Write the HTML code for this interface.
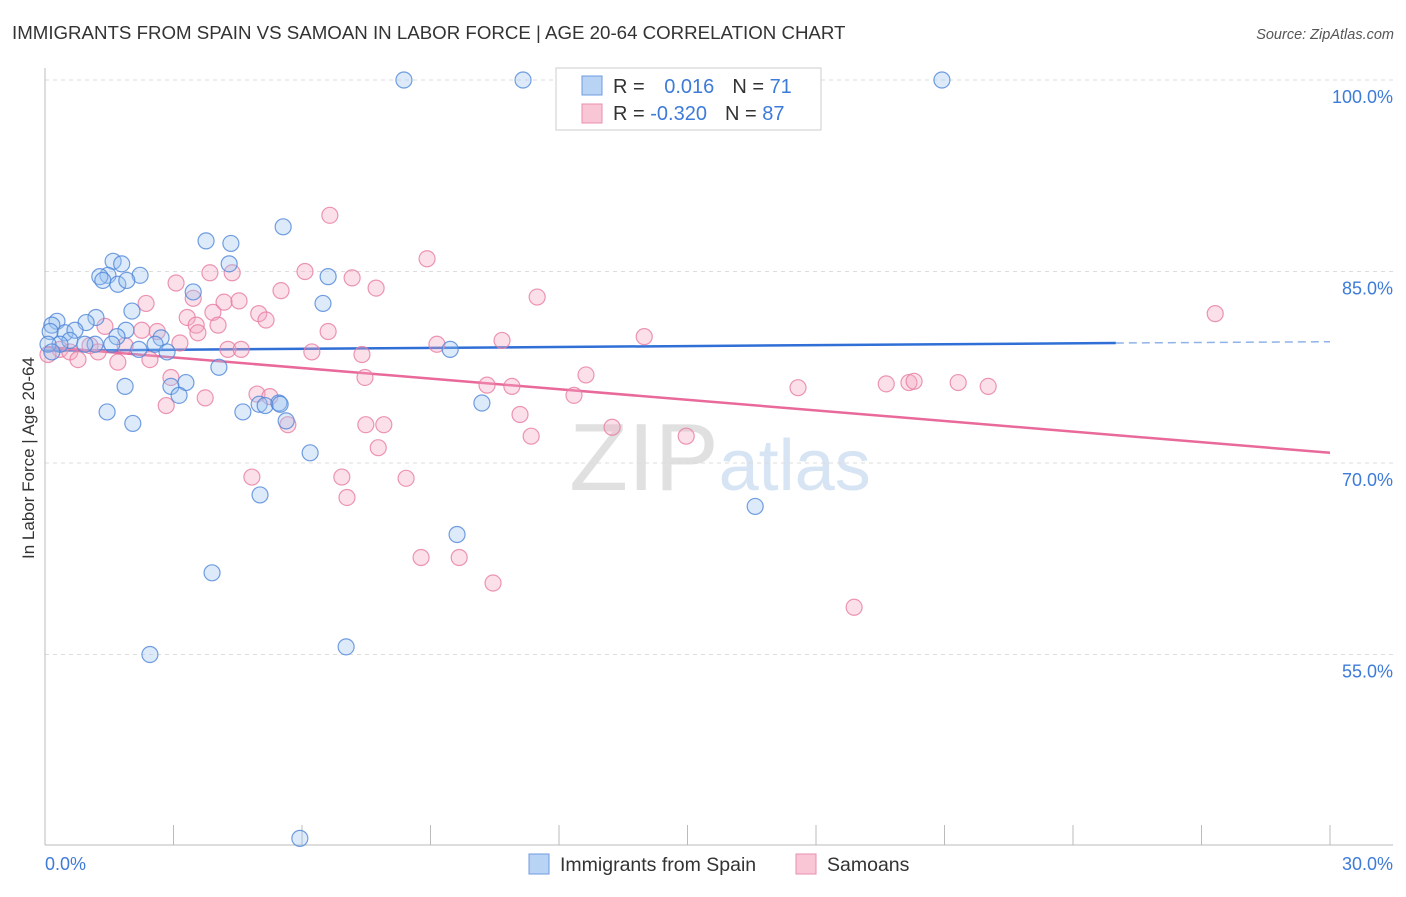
<!DOCTYPE html>
<html><head><meta charset="utf-8"><style>
body{margin:0;background:#fff;font-family:"Liberation Sans",sans-serif}
svg text{font-family:"Liberation Sans",sans-serif}
</style></head><body>
<svg id="chart" width="1406" height="892" xmlns="http://www.w3.org/2000/svg">
<text x="12" y="39" font-size="18.7" fill="#333">IMMIGRANTS FROM SPAIN VS SAMOAN IN LABOR FORCE | AGE 20-64 CORRELATION CHART</text>
<text x="1394" y="39" font-size="14.5" fill="#555" text-anchor="end" font-style="italic">Source: ZipAtlas.com</text>
<text x="720" y="490" font-size="96" text-anchor="middle" fill="#e2e2e2" font-family="Liberation Serif"><tspan fill="#e0e0e0">ZIP</tspan><tspan fill="#d6e4f4" font-family="Liberation Sans" font-size="72">atlas</tspan></text>
<g id="grid"></g><g id="axes"></g><g id="trend"></g><g id="pts"></g>
<text transform="translate(34,458) rotate(-90)" font-size="17" fill="#333" text-anchor="middle">In Labor Force | Age 20-64</text>
<g>
<rect x="556" y="68" width="265" height="62" fill="#fff" stroke="#ccc"/>
<rect x="582" y="76" width="20" height="19" fill="#b9d3f5" stroke="#6d9be0"/>
<rect x="582" y="104" width="20" height="19" fill="#f9c6d5" stroke="#ea8fb0"/>
<text x="613" y="93" font-size="20" fill="#333">R = <tspan fill="#3d7bd8" dx="14">0.016</tspan><tspan dx="18" fill="#333">N = </tspan><tspan fill="#3d7bd8">71</tspan></text>
<text x="613" y="120" font-size="20" fill="#333">R = <tspan fill="#3d7bd8">-0.320</tspan><tspan dx="18" fill="#333">N = </tspan><tspan fill="#3d7bd8">87</tspan></text>
</g>
<g>
<rect x="529" y="854" width="20" height="20" fill="#b9d3f5" stroke="#6d9be0"/>
<text x="560" y="871" font-size="19.5" fill="#333">Immigrants from Spain</text>
<rect x="796" y="854" width="20" height="20" fill="#f9c6d5" stroke="#ea8fb0"/>
<text x="827" y="871" font-size="19.5" fill="#333">Samoans</text>
</g>
</svg>
<script>
const xTicks=[0,3,6,9,12,15,18,21,24,27,30];
const yTicks=[100,85,70,55];
const yTickLabels=["100.0%","85.0%","70.0%","55.0%"];
const xTickLabels=["0.0%","30.0%"];
const spainX=[8.38,11.16,20.94,5.56,3.76,4.34,4.30,1.59,1.79,2.22,1.47,1.28,1.35,1.70,1.91,6.61,3.46,6.49,2.03,1.19,0.96,0.28,0.16,0.12,0.47,0.70,1.89,1.68,2.71,2.57,1.17,0.58,0.35,0.07,0.93,1.56,2.19,2.85,9.46,0.16,4.06,1.87,3.29,2.94,3.13,1.45,2.05,4.62,5.00,5.14,5.46,5.49,5.63,10.20,6.19,5.02,16.58,9.62,3.90,7.03,2.45,5.95];
const spainY=[100,100,100,88.5,87.4,87.2,85.6,85.8,85.6,84.7,84.7,84.6,84.3,84.0,84.3,84.6,83.4,82.5,81.9,81.4,81.0,81.1,80.8,80.3,80.2,80.4,80.4,79.9,79.8,79.3,79.3,79.6,79.3,79.3,79.3,79.3,78.9,78.7,78.9,78.7,77.5,76.0,76.3,76.0,75.3,74.0,73.1,74.0,74.6,74.5,74.7,74.6,73.3,74.7,70.8,67.5,66.6,64.4,61.4,55.6,55.0,40.6];
const samoaX=[6.65,8.92,6.07,7.17,3.85,4.37,3.06,5.51,7.73,11.49,3.46,2.36,4.18,4.53,3.92,4.99,5.16,3.32,27.32,3.53,4.04,6.61,2.26,2.62,1.40,13.99,10.67,9.15,3.57,3.15,1.05,1.87,0.35,0.58,1.24,4.27,4.58,6.23,7.40,0.77,0.07,1.70,2.45,2.94,7.47,12.63,10.32,10.90,17.58,19.64,20.17,20.29,21.32,22.02,12.35,4.95,5.25,3.74,2.83,11.09,5.67,7.49,7.91,13.24,11.35,14.97,7.78,4.83,6.93,8.43,7.05,8.78,9.67,10.46,18.89];
const samoaY=[89.4,86.0,85.0,84.5,84.9,84.9,84.1,83.5,83.7,83.0,82.9,82.5,82.6,82.7,81.8,81.7,81.2,81.4,81.7,80.8,80.8,80.3,80.4,80.3,80.7,79.9,79.6,79.3,80.2,79.4,79.2,79.2,78.9,78.7,78.7,78.9,78.9,78.7,78.5,78.1,78.5,77.9,78.1,76.7,76.7,76.9,76.1,76.0,75.9,76.2,76.3,76.4,76.3,76.0,75.3,75.4,75.2,75.1,74.5,73.8,73.0,73.0,73.0,72.8,72.1,72.1,71.2,68.9,68.9,68.8,67.3,62.6,62.6,60.6,58.7];
const spainTrend=[[0,78.8],[25,79.4],[30,79.5]];
const samoaTrend=[[0,79.1],[30,70.8]];
const NS="http://www.w3.org/2000/svg";
const X=v=>45+v/30*1285;
const Y=v=>80+(100-v)*12.767;
function mk(t,a,p){const e=document.createElementNS(NS,t);for(const k in a)e.setAttribute(k,a[k]);p.appendChild(e);return e;}
const grid=document.getElementById('grid'),axes=document.getElementById('axes'),tr=document.getElementById('trend'),pts=document.getElementById('pts');
yTicks.forEach((t,i)=>{
 const l=mk('line',{x1:45,x2:1393,y1:Y(t),y2:Y(t),stroke:'#ddd','stroke-dasharray':'4,4'},grid);
 
 
 const tx=mk('text',{x:1393,y:Y(t)+23,'font-size':18,fill:'#3d7bd8','text-anchor':'end'},axes);
 tx.textContent=yTickLabels[i];
 
 
});
const ax=mk('line',{x1:45,x2:45,y1:68,y2:845,stroke:'#bbb'},axes);


const bx=mk('line',{x1:45,x2:1393,y1:845,y2:845,stroke:'#bbb'},axes);


xTicks.forEach(t=>{
 const l=mk('line',{x1:X(t),x2:X(t),y1:825,y2:845,stroke:'#bbb'},axes);
 
 
});
[[0,'start'],[30,'end']].forEach((d,i)=>{
 const tx=mk('text',{x:i?1393:45,y:870,'font-size':18,fill:'#3d7bd8','text-anchor':d[1]},axes);
 tx.textContent=xTickLabels[i];
 
 
});
function dots(xs,ys,fill,stroke,name){xs.forEach((x,i)=>{
 const c=mk('circle',{cx:X(x),cy:Y(ys[i]),r:8,fill:fill,'fill-opacity':0.35,stroke:stroke,'stroke-width':1.2,'stroke-opacity':0.8},pts);
 
 
});}
dots(samoaX,samoaY,'#f4a6bf','#e77ca2','samoan-point');
dots(spainX,spainY,'#9cc2f0','#4f86d8','spain-point');
const s1=mk('line',{x1:X(spainTrend[0][0]),y1:Y(spainTrend[0][1]),x2:X(spainTrend[1][0]),y2:Y(spainTrend[1][1]),stroke:'#2f6fd6','stroke-width':2.5},tr);


const s2=mk('line',{x1:X(spainTrend[1][0]),y1:Y(spainTrend[1][1]),x2:X(spainTrend[2][0]),y2:Y(spainTrend[2][1]),stroke:'#8fb3e8','stroke-width':1.5,'stroke-dasharray':'8,5'},tr);


const s3=mk('line',{x1:X(samoaTrend[0][0]),y1:Y(samoaTrend[0][1]),x2:X(samoaTrend[1][0]),y2:Y(samoaTrend[1][1]),stroke:'#e8699a','stroke-width':2.5},tr);


</script>
</body></html>
